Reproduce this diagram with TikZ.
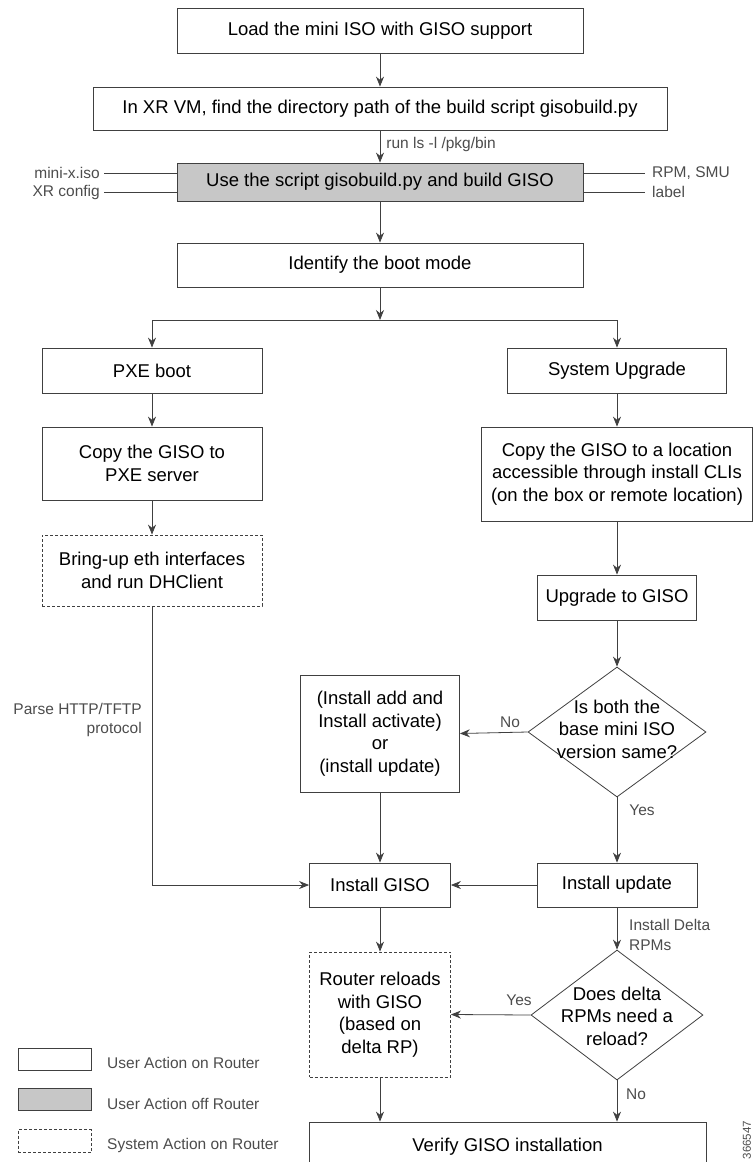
\documentclass[tikz,border=0pt]{standalone}
\usepackage{fontspec}
\setmainfont{Liberation Sans}
\usetikzlibrary{arrows.meta,shapes.geometric}
\definecolor{lncol}{gray}{0.25}
\definecolor{gfill}{gray}{0.78}
\definecolor{lblcol}{gray}{0.3}
\begin{document}
\begin{tikzpicture}[x=1pt,y=-1pt,
 box/.style={draw=lncol, line width=0.8pt, fill=white, align=center, inner sep=0pt, font=\fontsize{18.5}{22.5}\selectfont},
 dbox/.style={box, dash pattern=on 3pt off 2pt},
 gbox/.style={box, fill=gfill},
 dia/.style={draw=lncol, line width=0.8pt, diamond, inner sep=0pt, fill=white},
 txt/.style={align=center, font=\fontsize{18.5}{22.5}\selectfont, inner sep=0pt},
 lab/.style={text=lblcol, font=\fontsize{15.5}{19.5}\selectfont, inner sep=0pt},
 arr/.style={draw=lncol, line width=0.8pt, -{Stealth[length=10pt,width=8pt]}},
 conn/.style={draw=lncol, line width=0.8pt}]
\useasboundingbox (0,0) rectangle (754,1162);

% main column
\node[box, minimum width=406pt, minimum height=45pt] (b1) at (380,30.5) {Load the mini ISO with GISO support};
\node[box, minimum width=574pt, minimum height=43pt] (b2) at (380,108.5) {In XR VM, find the directory path of the build script gisobuild.py};
\node[gbox, minimum width=406pt, minimum height=38pt] (b3) at (380,182) {Use the script gisobuild.py and build GISO};
\node[box, minimum width=406pt, minimum height=44pt] (b4) at (380,265) {Identify the boot mode};

% left branch
\node[box, minimum width=220pt, minimum height=45pt] (pxe) at (152,370.5) {PXE boot};
\node[box, minimum width=220pt, minimum height=73pt] (cp1) at (152,463.5) {Copy the GISO to\\PXE server};
\node[dbox, minimum width=220pt, minimum height=71pt] (bring) at (152,570.5) {Bring-up eth interfaces\\and run DHClient};

% right branch
\node[box, minimum width=219pt, minimum height=45pt] (sys) at (617,370.5) {System Upgrade};
\node[box, minimum width=271pt, minimum height=94pt] (cp2) at (617,474) {Copy the GISO to a location\\accessible through install CLIs\\(on the box or remote location)};
\node[box, minimum width=159pt, minimum height=45pt] (upg) at (617,597.5) {Upgrade to GISO};
\node[dia, minimum width=178pt, minimum height=130pt] (d1) at (617,732) {};
\node[txt] (d1t) at (617,729) {Is both the\\base mini ISO\\version same?};
\node[box, minimum width=159pt, minimum height=117pt] (inst1) at (380,733.5) {(Install add and\\Install activate)\\or\\(install update)};

\node[box, minimum width=141pt, minimum height=44pt] (instg) at (380,885) {Install GISO};
\node[box, minimum width=160pt, minimum height=44pt] (instu) at (617,885) {Install update};
\node[dbox, minimum width=141pt, minimum height=125pt] (router) at (380,1014.5) {Router reloads\\with GISO\\(based on\\delta RP)};
\node[dia, minimum width=172pt, minimum height=130pt] (d2) at (617,1015) {};
\node[txt] (d2t) at (617,1016) {Does delta\\RPMs need a\\reload?};
\node[box, minimum width=397pt, minimum height=50pt] (ver) at (507.5,1147) {Verify GISO installation};

% connectors
\draw[arr] (b1) -- (b2);
\draw[arr] (b2) -- node[lab, right=6pt, pos=0.45] (runls) {run ls -l /pkg/bin} (b3);
\draw[arr] (b3) -- (b4);
\coordinate (jn) at (380,320);
\coordinate (jl) at (152,320);
\coordinate (jr) at (617,320);
\draw[arr] (b4) -- (jn);
\draw[conn] (jl) -- (jr);
\draw[arr] (jl) -- (pxe);
\draw[arr] (jr) -- (sys);
\draw[arr] (pxe) -- (cp1);
\draw[arr] (cp1) -- (bring);
\draw[arr] (bring.south) |- (instg.west);
\draw[arr] (sys) -- (cp2);
\draw[arr] (cp2) -- (upg);
\draw[arr] (upg) -- (d1.north);
\draw[arr] (d1.west) -- (inst1.east);
\draw[arr] (d1.south) -- (instu.north);
\draw[arr] (inst1) -- (instg);
\draw[arr] (instu) -- (instg);
\draw[arr] (instg) -- (router);
\draw[arr] (instu) -- (d2.north);
\draw[arr] (d2.west) -- (router.east);
\draw[arr] (router.south) -- (router.south |- ver.north);
\draw[arr] (d2.south) -- (d2.south |- ver.north);

% edge labels
\node[lab, anchor=east] (parse) at (142,709) {Parse HTTP/TFTP};
\node[lab, anchor=east] (proto) at (142,729) {protocol};
\node[lab] (no1) at (510,722) {No};
\node[lab] (yes1) at (642,810) {Yes};
\node[lab, anchor=west, align=left] (delta) at (629,935) {Install Delta\\RPMs};
\node[lab] (yes2) at (519,1000) {Yes};
\node[lab] (no2) at (636,1094) {No};

% inputs to gisobuild
\coordinate (inA) at (104,173);
\coordinate (inB) at (104,192);
\coordinate (outA) at (645,173);
\coordinate (outB) at (645,192);
\draw[conn] (inA) -- (inA -| b3.west);
\draw[conn] (inB) -- (inB -| b3.west);
\draw[conn] (outA -| b3.east) -- (outA);
\draw[conn] (outB -| b3.east) -- (outB);
\node[lab, anchor=east] (miso) at (100,173) {mini-x.iso};
\node[lab, anchor=east] (xrc) at (100,192) {XR config};
\node[lab, anchor=west] (rpm) at (652,173) {RPM, SMU};
\node[lab, anchor=west] (lbl) at (652,192) {label};

% legend
\node[box, minimum width=73pt, minimum height=22pt] (lg1) at (54.5,1059) {};
\node[gbox, minimum width=73pt, minimum height=22pt] (lg2) at (54.5,1099.5) {};
\node[dbox, minimum width=73pt, minimum height=23pt] (lg3) at (54.5,1141) {};
\node[lab, anchor=west] (lt1) at (107,1063) {User Action on Router};
\node[lab, anchor=west] (lt2) at (107,1104) {User Action off Router};
\node[lab, anchor=west] (lt3) at (107,1145) {System Action on Router};

\node[lab, rotate=90, font=\fontsize{11.5}{13}\selectfont] (id) at (747,1140) {366547};
\end{tikzpicture}
\end{document}
